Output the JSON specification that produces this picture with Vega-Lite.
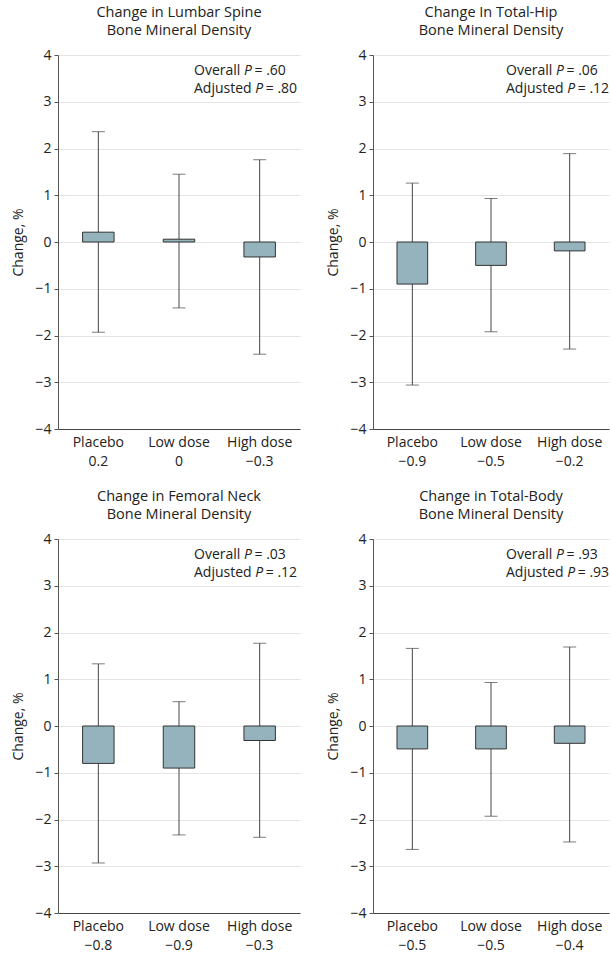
{
  "$schema": "https://vega.github.io/schema/vega-lite/v6.json",
  "padding": {"left": 11, "top": 4, "right": 0, "bottom": 0},
  "background": "white",
  "config": {
    "font": "Open Sans",
    "view": {"stroke": null},
    "axis": {"labelFont": "Open Sans", "labelFontSize": 14, "labelColor": "#222", "titleFont": "Open Sans", "titleFontSize": 14, "titleFontWeight": "normal", "titleColor": "#222", "domainColor": "#555", "tickColor": "#555"},
    "axisY": {"grid": true, "gridColor": "#e4e4e4", "tickSize": 4, "labelPadding": 3, "titlePadding": 9, "values": [-4, -3, -2, -1, 0, 1, 2, 3, 4]},
    "axisX": {"grid": false, "ticks": false, "labelAngle": 0, "labelPadding": 6, "labelLineHeight": 19, "domainColor": "#444", "labelExpr": "split(datum.label, '|')"},
    "title": {"font": "Open Sans", "fontSize": 14.5, "fontWeight": "normal", "color": "#222", "offset": 10, "lineHeight": 18},
    "text": {"font": "Open Sans", "fontSize": 14, "color": "#222", "baseline": "middle", "align": "left"},
    "tick": {"color": "#444", "thickness": 1, "size": 13},
    "rule": {"color": "#444", "strokeWidth": 1}
  },
  "datasets": {
    "bmd": [
      {"site": "Lumbar Spine", "group": "Placebo", "order": 1, "label": "Placebo|0.2", "mean": 0.21, "low": -1.93, "high": 2.36},
      {"site": "Lumbar Spine", "group": "Low dose", "order": 2, "label": "Low dose|0", "mean": 0.06, "low": -1.41, "high": 1.45},
      {"site": "Lumbar Spine", "group": "High dose", "order": 3, "label": "High dose|−0.3", "mean": -0.32, "low": -2.4, "high": 1.76},
      {"site": "Total-Hip", "group": "Placebo", "order": 1, "label": "Placebo|−0.9", "mean": -0.9, "low": -3.06, "high": 1.26},
      {"site": "Total-Hip", "group": "Low dose", "order": 2, "label": "Low dose|−0.5", "mean": -0.5, "low": -1.92, "high": 0.93},
      {"site": "Total-Hip", "group": "High dose", "order": 3, "label": "High dose|−0.2", "mean": -0.19, "low": -2.29, "high": 1.89},
      {"site": "Femoral Neck", "group": "Placebo", "order": 1, "label": "Placebo|−0.8", "mean": -0.8, "low": -2.93, "high": 1.33},
      {"site": "Femoral Neck", "group": "Low dose", "order": 2, "label": "Low dose|−0.9", "mean": -0.9, "low": -2.33, "high": 0.52},
      {"site": "Femoral Neck", "group": "High dose", "order": 3, "label": "High dose|−0.3", "mean": -0.31, "low": -2.38, "high": 1.77},
      {"site": "Total-Body", "group": "Placebo", "order": 1, "label": "Placebo|−0.5", "mean": -0.49, "low": -2.64, "high": 1.66},
      {"site": "Total-Body", "group": "Low dose", "order": 2, "label": "Low dose|−0.5", "mean": -0.49, "low": -1.93, "high": 0.93},
      {"site": "Total-Body", "group": "High dose", "order": 3, "label": "High dose|−0.4", "mean": -0.37, "low": -2.48, "high": 1.69}
    ],
    "notes": [
      {"site": "Lumbar Spine", "overall": "= .60", "adjusted": "= .80"},
      {"site": "Total-Hip", "overall": "= .06", "adjusted": "= .12"},
      {"site": "Femoral Neck", "overall": "= .03", "adjusted": "= .12"},
      {"site": "Total-Body", "overall": "= .93", "adjusted": "= .93"}
    ]
  },
  "spacing": 20,
  "vconcat": [
    {
      "spacing": 26,
      "hconcat": [
        {
          "width": 242, "height": 374,
          "title": {"text": ["Change in Lumbar Spine", "Bone Mineral Density"]},
          "layer": [
            {
              "data": {"name": "bmd"},
              "transform": [{"filter": "datum.site === 'Lumbar Spine'"}],
              "encoding": {"x": {"field": "label", "type": "nominal", "sort": {"field": "order"}, "scale": {"paddingInner": 0, "paddingOuter": 0}, "title": null}},
              "layer": [
                {"mark": "rule", "encoding": {"y": {"field": "low", "type": "quantitative", "scale": {"domain": [-4, 4]}, "title": "Change, %"}, "y2": {"field": "high"}}},
                {"mark": "tick", "encoding": {"y": {"field": "low", "type": "quantitative"}}},
                {"mark": "tick", "encoding": {"y": {"field": "high", "type": "quantitative"}}},
                {"mark": {"type": "bar", "width": {"band": 0.39}, "fill": "#95b3bd", "stroke": "#333", "strokeWidth": 1}, "encoding": {"y": {"field": "mean", "type": "quantitative"}, "y2": {"datum": 0}}}
              ]
            },
            {
              "data": {"name": "notes"},
              "transform": [{"filter": "datum.site === 'Lumbar Spine'"}],
              "layer": [
                {"mark": {"type": "text", "text": "Overall", "dx": -106}, "encoding": {"x": {"value": "width"}, "y": {"datum": 3.66}}},
                {"mark": {"type": "text", "text": "P", "fontStyle": "italic", "dx": -56}, "encoding": {"x": {"value": "width"}, "y": {"datum": 3.66}}},
                {"mark": {"type": "text", "dx": -45.5}, "encoding": {"text": {"field": "overall"}, "x": {"value": "width"}, "y": {"datum": 3.66}}},
                {"mark": {"type": "text", "text": "Adjusted", "dx": -106}, "encoding": {"x": {"value": "width"}, "y": {"datum": 3.27}}},
                {"mark": {"type": "text", "text": "P", "fontStyle": "italic", "dx": -44.8}, "encoding": {"x": {"value": "width"}, "y": {"datum": 3.27}}},
                {"mark": {"type": "text", "dx": -34.2}, "encoding": {"text": {"field": "adjusted"}, "x": {"value": "width"}, "y": {"datum": 3.27}}}
              ]
            }
          ]
        },
        {
          "width": 236, "height": 374,
          "title": {"text": ["Change In Total-Hip", "Bone Mineral Density"]},
          "layer": [
            {
              "data": {"name": "bmd"},
              "transform": [{"filter": "datum.site === 'Total-Hip'"}],
              "encoding": {"x": {"field": "label", "type": "nominal", "sort": {"field": "order"}, "scale": {"paddingInner": 0, "paddingOuter": 0}, "title": null}},
              "layer": [
                {"mark": "rule", "encoding": {"y": {"field": "low", "type": "quantitative", "scale": {"domain": [-4, 4]}, "title": "Change, %"}, "y2": {"field": "high"}}},
                {"mark": "tick", "encoding": {"y": {"field": "low", "type": "quantitative"}}},
                {"mark": "tick", "encoding": {"y": {"field": "high", "type": "quantitative"}}},
                {"mark": {"type": "bar", "width": {"band": 0.39}, "fill": "#95b3bd", "stroke": "#333", "strokeWidth": 1}, "encoding": {"y": {"field": "mean", "type": "quantitative"}, "y2": {"datum": 0}}}
              ]
            },
            {
              "data": {"name": "notes"},
              "transform": [{"filter": "datum.site === 'Total-Hip'"}],
              "layer": [
                {"mark": {"type": "text", "text": "Overall", "dx": -103}, "encoding": {"x": {"value": "width"}, "y": {"datum": 3.66}}},
                {"mark": {"type": "text", "text": "P", "fontStyle": "italic", "dx": -53}, "encoding": {"x": {"value": "width"}, "y": {"datum": 3.66}}},
                {"mark": {"type": "text", "dx": -42.5}, "encoding": {"text": {"field": "overall"}, "x": {"value": "width"}, "y": {"datum": 3.66}}},
                {"mark": {"type": "text", "text": "Adjusted", "dx": -103}, "encoding": {"x": {"value": "width"}, "y": {"datum": 3.27}}},
                {"mark": {"type": "text", "text": "P", "fontStyle": "italic", "dx": -41.8}, "encoding": {"x": {"value": "width"}, "y": {"datum": 3.27}}},
                {"mark": {"type": "text", "dx": -31.2}, "encoding": {"text": {"field": "adjusted"}, "x": {"value": "width"}, "y": {"datum": 3.27}}}
              ]
            }
          ]
        }
      ]
    },
    {
      "spacing": 26,
      "hconcat": [
        {
          "width": 242, "height": 374,
          "title": {"text": ["Change in Femoral Neck", "Bone Mineral Density"]},
          "layer": [
            {
              "data": {"name": "bmd"},
              "transform": [{"filter": "datum.site === 'Femoral Neck'"}],
              "encoding": {"x": {"field": "label", "type": "nominal", "sort": {"field": "order"}, "scale": {"paddingInner": 0, "paddingOuter": 0}, "title": null}},
              "layer": [
                {"mark": "rule", "encoding": {"y": {"field": "low", "type": "quantitative", "scale": {"domain": [-4, 4]}, "title": "Change, %"}, "y2": {"field": "high"}}},
                {"mark": "tick", "encoding": {"y": {"field": "low", "type": "quantitative"}}},
                {"mark": "tick", "encoding": {"y": {"field": "high", "type": "quantitative"}}},
                {"mark": {"type": "bar", "width": {"band": 0.39}, "fill": "#95b3bd", "stroke": "#333", "strokeWidth": 1}, "encoding": {"y": {"field": "mean", "type": "quantitative"}, "y2": {"datum": 0}}}
              ]
            },
            {
              "data": {"name": "notes"},
              "transform": [{"filter": "datum.site === 'Femoral Neck'"}],
              "layer": [
                {"mark": {"type": "text", "text": "Overall", "dx": -106}, "encoding": {"x": {"value": "width"}, "y": {"datum": 3.66}}},
                {"mark": {"type": "text", "text": "P", "fontStyle": "italic", "dx": -56}, "encoding": {"x": {"value": "width"}, "y": {"datum": 3.66}}},
                {"mark": {"type": "text", "dx": -45.5}, "encoding": {"text": {"field": "overall"}, "x": {"value": "width"}, "y": {"datum": 3.66}}},
                {"mark": {"type": "text", "text": "Adjusted", "dx": -106}, "encoding": {"x": {"value": "width"}, "y": {"datum": 3.27}}},
                {"mark": {"type": "text", "text": "P", "fontStyle": "italic", "dx": -44.8}, "encoding": {"x": {"value": "width"}, "y": {"datum": 3.27}}},
                {"mark": {"type": "text", "dx": -34.2}, "encoding": {"text": {"field": "adjusted"}, "x": {"value": "width"}, "y": {"datum": 3.27}}}
              ]
            }
          ]
        },
        {
          "width": 236, "height": 374,
          "title": {"text": ["Change in Total-Body", "Bone Mineral Density"]},
          "layer": [
            {
              "data": {"name": "bmd"},
              "transform": [{"filter": "datum.site === 'Total-Body'"}],
              "encoding": {"x": {"field": "label", "type": "nominal", "sort": {"field": "order"}, "scale": {"paddingInner": 0, "paddingOuter": 0}, "title": null}},
              "layer": [
                {"mark": "rule", "encoding": {"y": {"field": "low", "type": "quantitative", "scale": {"domain": [-4, 4]}, "title": "Change, %"}, "y2": {"field": "high"}}},
                {"mark": "tick", "encoding": {"y": {"field": "low", "type": "quantitative"}}},
                {"mark": "tick", "encoding": {"y": {"field": "high", "type": "quantitative"}}},
                {"mark": {"type": "bar", "width": {"band": 0.39}, "fill": "#95b3bd", "stroke": "#333", "strokeWidth": 1}, "encoding": {"y": {"field": "mean", "type": "quantitative"}, "y2": {"datum": 0}}}
              ]
            },
            {
              "data": {"name": "notes"},
              "transform": [{"filter": "datum.site === 'Total-Body'"}],
              "layer": [
                {"mark": {"type": "text", "text": "Overall", "dx": -103}, "encoding": {"x": {"value": "width"}, "y": {"datum": 3.66}}},
                {"mark": {"type": "text", "text": "P", "fontStyle": "italic", "dx": -53}, "encoding": {"x": {"value": "width"}, "y": {"datum": 3.66}}},
                {"mark": {"type": "text", "dx": -42.5}, "encoding": {"text": {"field": "overall"}, "x": {"value": "width"}, "y": {"datum": 3.66}}},
                {"mark": {"type": "text", "text": "Adjusted", "dx": -103}, "encoding": {"x": {"value": "width"}, "y": {"datum": 3.27}}},
                {"mark": {"type": "text", "text": "P", "fontStyle": "italic", "dx": -41.8}, "encoding": {"x": {"value": "width"}, "y": {"datum": 3.27}}},
                {"mark": {"type": "text", "dx": -31.2}, "encoding": {"text": {"field": "adjusted"}, "x": {"value": "width"}, "y": {"datum": 3.27}}}
              ]
            }
          ]
        }
      ]
    }
  ]
}
